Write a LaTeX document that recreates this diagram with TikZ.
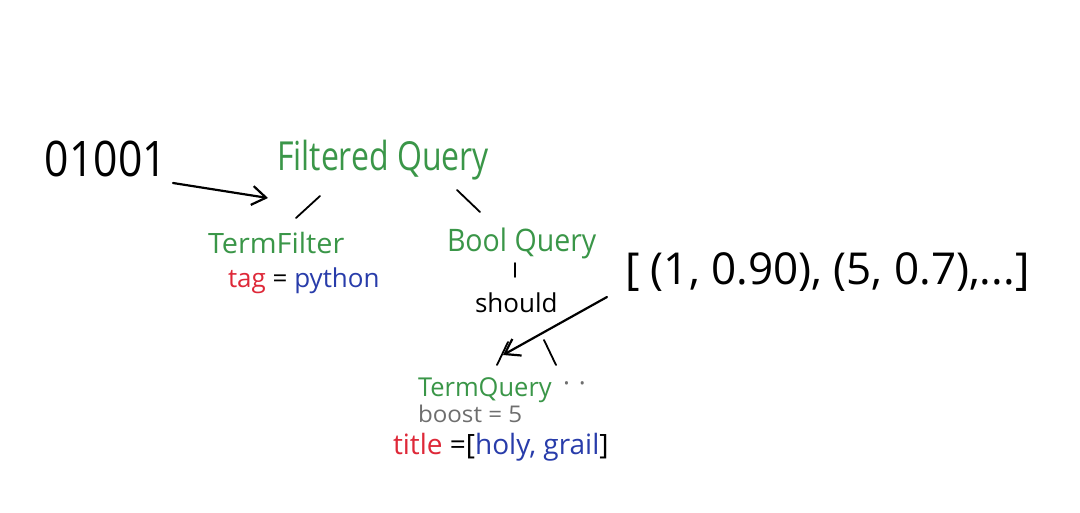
\documentclass[tikz,border=0pt]{standalone}
\usepackage{fontspec}
\setmainfont{Open Sans}
\usepackage{graphicx}
\usetikzlibrary{arrows.meta}
\definecolor{mgreen}{RGB}{58,150,72}
\definecolor{mred}{RGB}{222,40,56}
\definecolor{mblue}{RGB}{40,60,170}
\definecolor{mgray}{RGB}{110,110,110}
\newcommand{\hs}[2]{\scalebox{#1}[1]{#2}}
\begin{document}
\begin{tikzpicture}[x=1pt,y=-1pt,
  lbl/.style={anchor=base west,inner sep=0pt,outer sep=0pt},
  conn/.style={line width=1.8pt,line cap=round,black},
  arr/.style={line width=2.2pt,line cap=round,black,-{Straight Barb[length=14pt,width=19pt,line width=2.2pt]}}]
\useasboundingbox[fill=white] (0,0) rectangle (1080,513);
\node[lbl,font=\fontsize{49}{50}\selectfont] (bin) at (45,177) {\hs{0.87}{01001}};
\node[lbl,font=\fontsize{40}{42}\selectfont,text=mgreen] (fq) at (277,171) {\hs{0.8}{Filtered Query}};
\node[lbl,font=\fontsize{28}{30}\selectfont,text=mgreen] (tf) at (208,254) {\hs{1.03}{TermFilter}};
\node[lbl,font=\fontsize{26}{28}\selectfont] (tag) at (228,288) {\textcolor{mred}{tag} = \textcolor{mblue}{python}};
\node[lbl,font=\fontsize{31}{32}\selectfont,text=mgreen] (bq) at (447,252) {\hs{0.92}{Bool Query}};
\node[lbl,font=\fontsize{26}{28}\selectfont] (sh) at (475,313) {should};
\node[lbl,font=\fontsize{26}{28}\selectfont,text=mgreen] (tq) at (418,396) {\hs{0.98}{TermQuery}};
\node[lbl,font=\fontsize{26}{28}\selectfont,text=mgray] (dots) at (563,392) {·\hspace{9pt}·};
\node[lbl,font=\fontsize{23}{24}\selectfont,text=mgray] (bo) at (418,422) {\hs{1.05}{boost = 5}};
\node[lbl,font=\fontsize{28}{30}\selectfont] (ti) at (393,454) {\textcolor{mred}{title} =[\textcolor{mblue}{holy, grail}]};
\node[lbl,font=\fontsize{44}{46}\selectfont] (lst) at (625,285) {[ (1, 0.90), (5, 0.7),...]};
% connectors
\draw[arr] ([shift={(128,6)}]bin.base west) -- ([shift={(-9,27)}]fq.base west);
\draw[conn] ([shift={(43,25)}]fq.base west) -- ([shift={(88,-36)}]tf.base west);
\draw[conn] ([shift={(180,19)}]fq.base west) -- ([shift={(33,-40)}]bq.base west);
\draw[conn] ([shift={(68,11)}]bq.base west) -- ([shift={(40,-36)}]sh.base west);
\draw[conn] ([shift={(33,29)}]sh.base west) -- ([shift={(79,-31)}]tq.base west);
\draw[conn] ([shift={(69,27)}]sh.base west) -- ([shift={(138,-31)}]tq.base west);
\draw[arr] ([shift={(-18,12)}]lst.base west) -- ([shift={(85,-41)}]tq.base west);
\end{tikzpicture}
\end{document}
